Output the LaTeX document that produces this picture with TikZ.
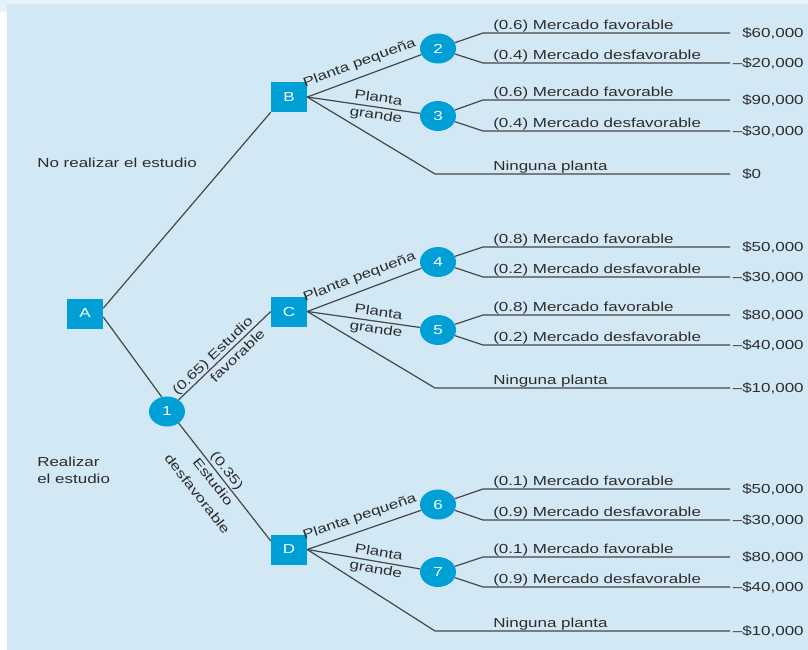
\documentclass[tikz,border=0pt]{standalone}
\usepackage{fontspec}
\setmainfont{Liberation Sans}[FakeStretch=1.3]
\usetikzlibrary{shapes.geometric}
\definecolor{bgblue}{RGB}{210,232,244}
\definecolor{paleblue}{RGB}{230,242,249}
\definecolor{nodeblue}{RGB}{0,160,214}
\definecolor{inkgray}{RGB}{45,45,45}
\definecolor{linegray}{RGB}{70,70,70}
% minus sign hanging left of a value
\newcommand\negv{\llap{–}}
\begin{document}
\begin{tikzpicture}[x=0.75pt,y=-0.75pt,
  every node/.style={font=\fontsize{9.8pt}{12.5pt}\selectfont, text=inkgray},
  decision/.style={rectangle, fill=nodeblue, minimum width=27pt, minimum height=22.5pt, inner sep=0pt, text=white},
  chance/.style={ellipse, fill=nodeblue, minimum width=27pt, minimum height=22.5pt, inner sep=0pt, text=white},
  branch/.style={draw=linegray, line width=0.9pt},
  lbl/.style={inner sep=0pt, anchor=base west},
  slab/.style={inner sep=0pt, sloped, font=\fontsize{9.8pt}{13pt}\selectfont},
]
% backdrop
\fill[white] (0,0) rectangle (808,650);
\fill[paleblue] (0,0) rectangle (808,4);
\fill[paleblue] (0,0) rectangle (7,12);
\fill[bgblue] (7,4) rectangle (808,650);
\useasboundingbox (0,0) rectangle (808,650);

% decision nodes
\node[decision] (A) at (85,313.5) {A};
\node[decision] (B) at (289,97) {B};
\node[decision] (C) at (289,311.5) {C};
\node[decision] (D) at (289,549.5) {D};
\node[chance] (n1) at (167,411.5) {1};

% chance nodes with their two market outcomes
\foreach \k/\cy/\uy/\ly/\pu/\pl/\vu/\vl in {
  2/48.5/33/63/0.6/0.4/{\$60,000}/{\negv\$20,000},
  3/116/100/131/0.6/0.4/{\$90,000}/{\negv\$30,000},
  4/262/247/277/0.8/0.2/{\$50,000}/{\negv\$30,000},
  5/330/315/345/0.8/0.2/{\$80,000}/{\negv\$40,000},
  6/504.5/489/520/0.1/0.9/{\$50,000}/{\negv\$30,000},
  7/572/557/587/0.1/0.9/{\$80,000}/{\negv\$40,000}}
{
  \node[chance] (n\k) at (438,\cy) {\k};
  \coordinate (u\k) at (483,\uy);
  \coordinate (ue\k) at (730,\uy);
  \coordinate (l\k) at (483,\ly);
  \coordinate (le\k) at (730,\ly);
  \draw[branch] (n\k) -- (u\k) -- (ue\k);
  \draw[branch] (n\k) -- (l\k) -- (le\k);
  \node[lbl] (mu\k) at (493,\uy-3.5) {(\pu) Mercado favorable};
  \node[lbl] (ml\k) at (493,\ly-3.5) {(\pl) Mercado desfavorable};
  \node[lbl] (vu\k) at (742,\uy+4.5) {\vu};
  \node[lbl] (vl\k) at (742,\ly+4.5) {\vl};
}

% "no plant" branches
\foreach \d/\ky/\v in {B/174/{\$0}, C/388/{\negv\$10,000}, D/631/{\negv\$10,000}}
{
  \coordinate (k\d) at (435,\ky);
  \coordinate (ke\d) at (730,\ky);
  \draw[branch] (\d.east) -- (k\d) -- (ke\d);
  \node[lbl] (tk\d) at (493,\ky-4) {Ninguna planta};
  \node[lbl] (vk\d) at (742,\ky+4.5) {\v};
}

% plant size branches
\foreach \d/\s/\b in {B/2/3, C/4/5, D/6/7}
{
  \draw[branch] (\d.east) -- node[slab, pos=0.5, above=5pt] (lp\d) {Planta pequeña} (n\s);
  \draw[branch] (\d.east) -- node[slab, pos=0.62, align=center] (lg\d) {Planta\\grande} (n\b);
}

% study decision
\draw[branch] ([yshift=4pt]A.east) -- (B.south west);
\draw[branch] ([yshift=-2.6pt]A.east) -- (n1.110);
\draw[branch] (n1.45) -- node[slab, pos=0.85, anchor=east, align=right] (lfav) {(0.65) Estudio\\favorable} (C.west);
\draw[branch] (n1.-45)
  -- node[slab, pos=0.45, above=1pt] (ldes1) {(0.35)}
     node[slab, pos=0.45, below=2.5pt, align=center, font=\fontsize{9.8pt}{15pt}\selectfont] (ldes2) {Estudio\\desfavorable}
  ([yshift=-5pt]D.north west);

\node[lbl] (tNo) at (37,167.5) {No realizar el estudio};
\node[lbl] (tSi1) at (37,466) {Realizar};
\node[lbl] (tSi2) at (37,483) {el estudio};
\end{tikzpicture}
\end{document}
